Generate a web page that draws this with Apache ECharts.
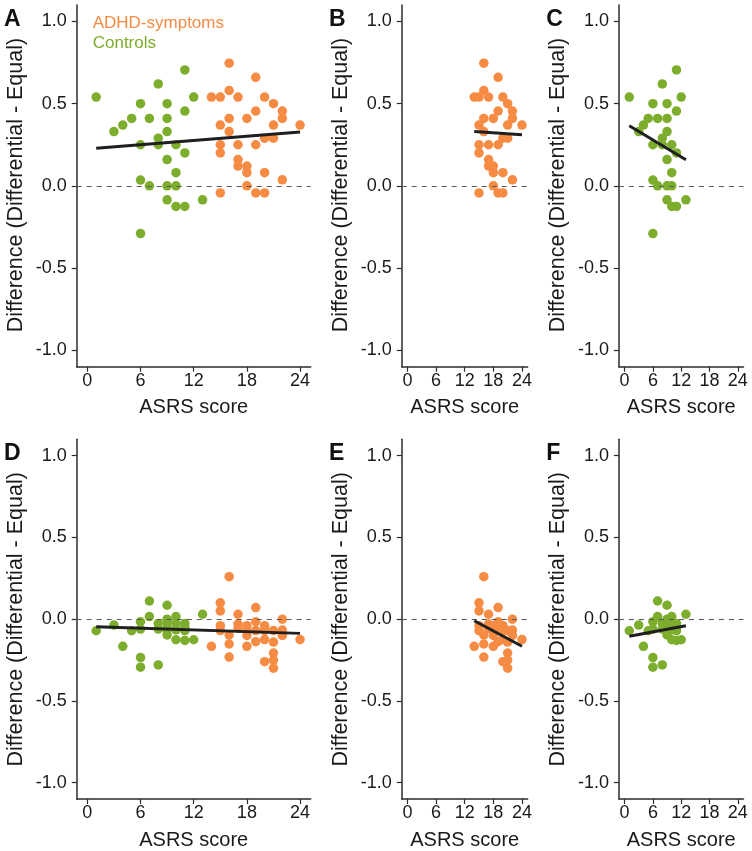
<!DOCTYPE html>
<html>
<head>
<meta charset="utf-8">
<script src="https://cdn.jsdelivr.net/npm/echarts@6/dist/echarts.min.js"></script>
<style>
html,body{margin:0;padding:0;background:#fff;}
#chart{width:752px;height:851px;}
</style>
</head>
<body>
<div id="chart"></div>
<script>
// ---------- data ----------
const xTicks = [0, 6, 12, 18, 24];
const yTicks = [-1, -0.5, 0, 0.5, 1];

// Top row (A, B, C)
const ctrlTopX = [1,3,4,5,6,6,6,6,7,7,8,8,8,9,9,9,9,9,9,10,10,10,10,11,11,11,11,12,13];
const ctrlTopY = [0.54,0.33,0.37,0.41,0.50,0.25,0.035,-0.29,0.41,0.0,0.62,0.29,0.25,0.50,0.41,0.33,0.16,0.0,-0.085,0.25,0.08,0.0,-0.125,0.705,0.455,0.20,-0.125,0.54,-0.085];
const adhdTopX = [14,15,15,15,15,15,16,16,16,16,17,17,17,17,18,18,18,18,19,19,19,19,20,20,20,20,21,21,21,22,22,22,24];
const adhdTopY = [0.54,0.54,0.37,0.25,0.20,-0.043,0.746,0.58,0.41,0.33,0.54,0.25,0.16,0.12,0.41,0.12,0.08,0.0,0.66,0.455,0.25,-0.043,0.54,0.29,0.08,-0.043,0.50,0.37,0.29,0.455,0.41,0.037,0.37];

// Bottom row (D, E, F)
const ctrlBotX = [1,3,4,5,6,6,6,6,7,7,8,8,8,9,9,9,9,9,9,10,10,10,10,11,11,11,11,12,13];
const ctrlBotY = [-0.071,-0.036,-0.166,-0.071,-0.016,-0.061,-0.235,-0.294,0.111,0.016,-0.026,-0.061,-0.28,0.085,0.0,-0.05,-0.097,-0.02,-0.07,0.016,-0.026,-0.126,-0.065,-0.026,-0.071,-0.13,-0.05,-0.126,0.03];
const adhdBotX = [14,15,15,15,15,16,16,16,16,17,17,17,18,18,18,18,19,19,19,19,20,20,20,20,21,21,21,21,21,22,22,22,24];
const adhdBotY = [-0.166,0.10,0.05,-0.04,-0.07,0.26,-0.097,-0.152,-0.232,0.03,-0.03,-0.057,-0.04,-0.07,-0.10,-0.166,0.071,-0.016,-0.07,-0.138,-0.04,-0.07,-0.125,-0.26,-0.07,-0.14,-0.207,-0.25,-0.30,0.0,-0.067,-0.10,-0.125];

// Regression line endpoints
const fitAX = [1, 24],  fitAY = [0.228, 0.327];
const fitBX = [14, 24], fitBY = [0.331, 0.311];
const fitCX = [1, 13],  fitCY = [0.366, 0.159];
const fitDX = [1, 24],  fitDY = [-0.047, -0.087];
const fitEX = [14, 24], fitEY = [-0.01, -0.166];
const fitFX = [1, 13],  fitFY = [-0.105, -0.04];

const panelLetters = ['A','B','C','D','E','F'];
const legendLabels = ['ADHD-symptoms', 'Controls'];
const xTitle = 'ASRS score';
const yTitle = 'Difference (Differential - Equal)';

// ---------- styling / layout ----------
const ORANGE = '#F68B44';
const GREEN = '#7DAD2C';
const FONT = '"Liberation Sans", Arial, Helvetica, sans-serif';
const TXT = '#1a1a1a';
const AX = '#2b2b2b';

const colLeft = [76.7, 401.7, 618.9];
const colWidth = [234, 126, 124.6];
const rowTop = [5, 439.3];
const plotH = 361.7;

const zip = (xs, ys) => xs.map((x, i) => [x, ys[i]]);

const grids = [], xAxes = [], yAxes = [], series = [], graphics = [];

const panels = [
  {adhd: [adhdTopX, adhdTopY], ctrl: [ctrlTopX, ctrlTopY], fit: [fitAX, fitAY]},
  {adhd: [adhdTopX, adhdTopY], ctrl: null, fit: [fitBX, fitBY]},
  {adhd: null, ctrl: [ctrlTopX, ctrlTopY], fit: [fitCX, fitCY]},
  {adhd: [adhdBotX, adhdBotY], ctrl: [ctrlBotX, ctrlBotY], fit: [fitDX, fitDY]},
  {adhd: [adhdBotX, adhdBotY], ctrl: null, fit: [fitEX, fitEY]},
  {adhd: null, ctrl: [ctrlBotX, ctrlBotY], fit: [fitFX, fitFY]}
];

panels.forEach((p, i) => {
  const col = i % 3, row = Math.floor(i / 3);
  const left = colLeft[col], top = rowTop[row];
  grids.push({left: left, top: top, width: colWidth[col], height: plotH, containLabel: false});
  xAxes.push({
    type: 'value', gridIndex: i, min: -1.2, max: 25.2,
    name: xTitle, nameLocation: 'middle', nameGap: 31,
    nameTextStyle: {fontFamily: FONT, fontSize: 20, color: TXT},
    axisLine: {show: true, onZero: false, lineStyle: {color: AX, width: 1.5}},
    axisTick: {show: true, length: 5, customValues: xTicks, lineStyle: {color: AX, width: 1.2}},
    axisLabel: {show: true, customValues: xTicks, margin: 5, fontFamily: FONT, fontSize: 18, color: TXT,
      formatter: v => String(v)},
    splitLine: {show: false}
  });
  yAxes.push({
    type: 'value', gridIndex: i, min: -1.1, max: 1.1,
    axisLine: {show: true, onZero: false, lineStyle: {color: AX, width: 1.5}},
    axisTick: {show: true, length: 5, customValues: yTicks, lineStyle: {color: AX, width: 1.2}},
    axisLabel: {show: true, customValues: yTicks, margin: 10, fontFamily: FONT, fontSize: 18, color: TXT,
      formatter: v => Number(v).toFixed(1)},
    splitLine: {show: false}
  });
  // zero reference line
  series.push({
    type: 'line', xAxisIndex: i, yAxisIndex: i, data: [], symbol: 'none', silent: true,
    markLine: {silent: true, symbol: 'none', animation: false, label: {show: false},
      lineStyle: {color: '#5a5a5a', width: 1.1, type: [5, 5]},
      data: [{yAxis: 0}]}
  });
  if (p.ctrl) series.push({
    type: 'scatter', xAxisIndex: i, yAxisIndex: i, symbolSize: 9.5,
    itemStyle: {color: GREEN, opacity: 1}, data: zip(p.ctrl[0], p.ctrl[1]), z: 3
  });
  if (p.adhd) series.push({
    type: 'scatter', xAxisIndex: i, yAxisIndex: i, symbolSize: 9.5,
    itemStyle: {color: ORANGE, opacity: 1}, data: zip(p.adhd[0], p.adhd[1]), z: 3
  });
  series.push({
    type: 'line', xAxisIndex: i, yAxisIndex: i, symbol: 'none', z: 5,
    lineStyle: {color: '#1f1f1f', width: 3}, data: zip(p.fit[0], p.fit[1])
  });
  // panel letter
  graphics.push({type: 'text', left: left - 72.7, top: top + 3, z: 10,
    style: {text: panelLetters[i], fontFamily: FONT, fontSize: 23, fontWeight: 'bold', fill: '#111'}});
  // y title
  graphics.push({type: 'text', x: left - 61, y: top + 180, rotation: Math.PI / 2, z: 10,
    style: {text: yTitle, fontFamily: FONT, fontSize: 21.5, fill: TXT, align: 'center', verticalAlign: 'middle'}});
});

// legend text inside A
graphics.push({type: 'text', x: 92.7, y: 23, z: 10,
  style: {text: legendLabels[0], fontFamily: FONT, fontSize: 17, fill: ORANGE, align: 'left', verticalAlign: 'middle'}});
graphics.push({type: 'text', x: 92.7, y: 43, z: 10,
  style: {text: legendLabels[1], fontFamily: FONT, fontSize: 17, fill: GREEN, align: 'left', verticalAlign: 'middle'}});

const chart = echarts.init(document.getElementById('chart'), null, {renderer: 'canvas'});
chart.setOption({
  animation: false,
  backgroundColor: '#ffffff',
  grid: grids, xAxis: xAxes, yAxis: yAxes, series: series, graphic: graphics
});
</script>
</body>
</html>
